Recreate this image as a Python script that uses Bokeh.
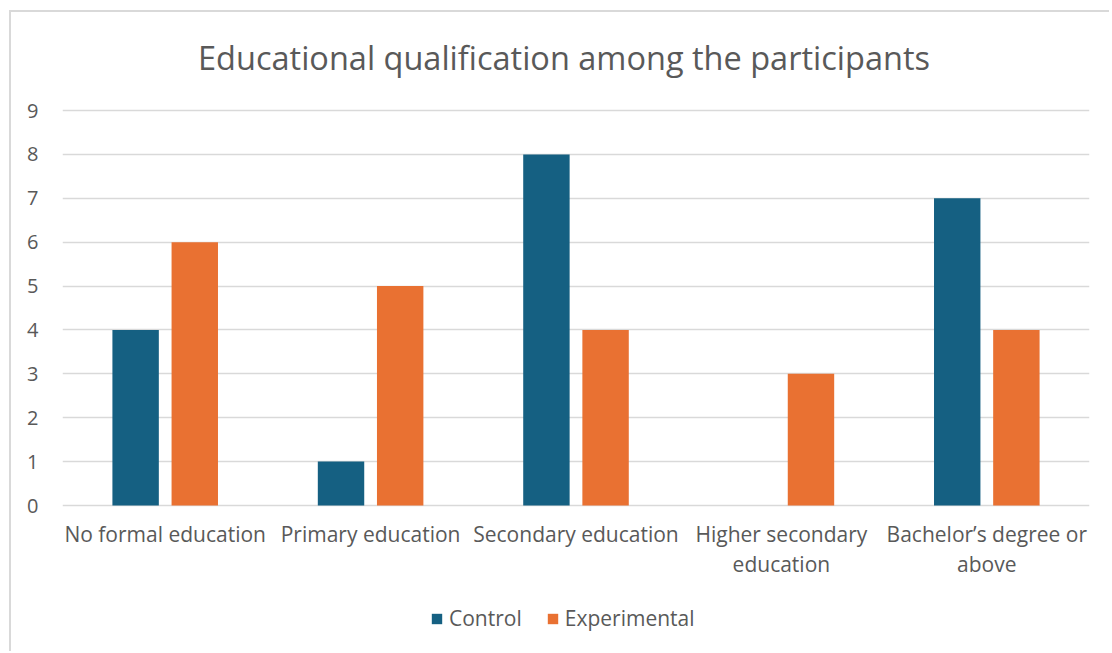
from bokeh.plotting import figure
from bokeh.models import ColumnDataSource, Legend, LegendItem, FixedTicker, Range1d
from bokeh.core.properties import value
from bokeh.embed import file_html
from bokeh.resources import INLINE

categories = ["No formal education", "Primary education", "Secondary education",
              "Higher secondary\neducation", "Bachelor\u2019s degree or\nabove"]
control = [4, 1, 8, 0, 7]
experimental = [6, 5, 4, 3, 4]
y_ticks = [0, 1, 2, 3, 4, 5, 6, 7, 8, 9]
title_text = "Educational qualification among the participants"

C_CONTROL = "#156082"
C_EXP = "#E97132"
TXT = "#595959"
GRID = "#D9D9D9"
FONT = "Open Sans"

x_centers = [i + 0.5 for i in range(len(categories))]
src = ColumnDataSource(dict(
    xc=[x - 0.144 for x in x_centers],
    xe=[x + 0.144 for x in x_centers],
    control=control,
    experimental=experimental,
))
lab_src = ColumnDataSource(dict(x=x_centers, y=[-0.322] * len(categories), text=categories))

p = figure(width=1100, height=641, output_backend="svg", toolbar_location=None,
           x_range=Range1d(0, len(categories)), y_range=Range1d(-3.372, 11.233),
           min_border_left=51, min_border_right=22, min_border_top=0, min_border_bottom=0,
           background_fill_color="white", border_fill_color="white",
           outline_line_color=None,
           styles={"border-left": "2px solid #D9D9D9", "border-top": "2px solid #D9D9D9",
                   "margin-left": "9px", "margin-top": "10px"})
p.title.visible = False

r1 = p.vbar(x="xc", top="control", width=0.226, source=src, fill_color=C_CONTROL, line_color=None)
r2 = p.vbar(x="xe", top="experimental", width=0.226, source=src, fill_color=C_EXP, line_color=None)

p.text(x="x", y="y", text="text", source=lab_src, text_align="center", text_baseline="top",
       text_font=value(FONT), text_font_size="21px", text_color=TXT, text_line_height=1.09)

p.text(x=[2.4416], y=[10.2076], text=[title_text], text_align="center", text_baseline="middle",
       text_font=value(FONT), text_font_size="32.5px", text_color=TXT)

p.xaxis.visible = False
p.xgrid.grid_line_color = None
p.ygrid.ticker = FixedTicker(ticks=y_ticks)
p.ygrid.grid_line_color = GRID
p.ygrid.grid_line_width = 1.5
p.yaxis.ticker = FixedTicker(ticks=y_ticks)
p.yaxis.axis_line_color = None
p.yaxis.major_tick_line_color = None
p.yaxis.minor_tick_line_color = None
p.yaxis.major_label_standoff = 18
p.yaxis.major_label_text_font = FONT
p.yaxis.major_label_text_font_size = "20px"
p.yaxis.major_label_text_color = TXT

legend = Legend(items=[LegendItem(label="Control", renderers=[r1]),
                       LegendItem(label="Experimental", renderers=[r2])],
                orientation="horizontal", location=(368, 21), padding=5,
                label_text_font=FONT, label_text_font_size="21px", label_text_color=TXT,
                glyph_width=13, glyph_height=13, spacing=24, label_standoff=6,
                border_line_color=None, background_fill_alpha=0)
p.add_layout(legend, "center")

open("out.html", "w").write(file_html(p, INLINE))
